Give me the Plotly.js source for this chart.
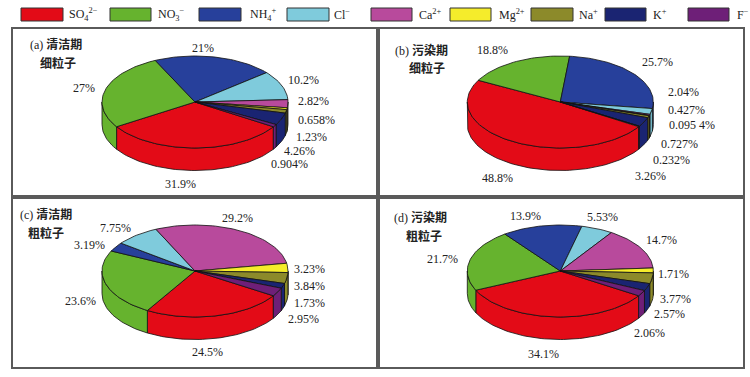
<!DOCTYPE html>
<html><head><meta charset="utf-8">
<script src="https://cdn.plot.ly/plotly-3.0.1.min.js"></script>
<style>html,body{margin:0;padding:0;background:#fff;overflow:hidden}#c{width:750px;height:377px}</style>
</head><body><div id="c"></div>
<script>
// ---- data ----
const ions = ['SO<sub>4</sub><sup>2−</sup>','NO<sub>3</sub><sup>−</sup>','NH<sub>4</sub><sup>+</sup>','Cl<sup>−</sup>','Ca<sup>2+</sup>','Mg<sup>2+</sup>','Na<sup>+</sup>','K<sup>+</sup>','F<sup>−</sup>'];
const ionNames = ['SO4','NO3','NH4','Cl','Ca','Mg','Na','K','F'];
const valuesA = [31.9,27,21,10.2,2.82,0.658,1.23,4.26,0.904];
const valuesB = [48.8,18.8,25.7,2.04,0.427,0.0954,0.727,3.26,0.232];
const valuesC = [24.5,23.6,3.19,7.75,29.2,3.23,3.84,1.73,2.95];
const valuesD = [34.1,21.7,13.9,5.53,14.7,1.71,3.77,2.57,2.06];
const labelsA = ['31.9%','27%','21%','10.2%','2.82%','0.658%','1.23%','4.26%','0.904%'];
const labelsB = ['48.8%','18.8%','25.7%','2.04%','0.427%','0.095 4%','0.727%','3.26%','0.232%'];
const labelsC = ['24.5%','23.6%','3.19%','7.75%','29.2%','3.23%','3.84%','1.73%','2.95%'];
const labelsD = ['34.1%','21.7%','13.9%','5.53%','14.7%','1.71%','3.77%','2.57%','2.06%'];

// ---- style and layout ----
const colors = ['#e30b17','#66b32e','#27409b','#7fcbdc','#b84a9c','#f5ec2b','#8c8a2a','#1a2472','#6e1f78'];
const W = 750, H = 377;
const START = 32.6, DEPTH = 22.5, RX = 93, RY = 46;
const edge = '#111';
const panels = [
 {ax:'',  xr:[13,378],  yr:[197,29],  cx:195,   cy:102, v:valuesA, l:labelsA, t1:'(a) <b>清洁期</b>', t1x:28,  t1y:45,  t2:'<b>细粒子</b>', t2x:58,  t2y:64,
  pos:[[180,184],[84,88],[203,48],[303,80],[313,101],[316,120],[311,137],[299,151],[289,164]]},
 {ax:'2', xr:[378,743], yr:[197,29],  cx:560.3, cy:102, v:valuesB, l:labelsB, t1:'(b) <b>污染期</b>', t1x:393, t1y:51,  t2:'<b>细粒子</b>', t2x:427, t2y:69,
  pos:[[497,178],[492,50],[657,62],[683,92],[686,110],[692,125],[679,144],[650,176],[671,160]]},
 {ax:'3', xr:[13,378],  yr:[367,197], cx:195,   cy:271, v:valuesC, l:labelsC, t1:'(c) <b>清洁期</b>', t1x:18,  t1y:214, t2:'<b>粗粒子</b>', t2x:46,  t2y:233,
  pos:[[207,352],[80,301],[89,245],[115,228],[237,218],[309,269],[309,286],[309,303],[303,319]]},
 {ax:'4', xr:[378,743], yr:[367,197], cx:560.3, cy:271, v:valuesD, l:labelsD, t1:'(d) <b>污染期</b>', t1x:392, t1y:217, t2:'<b>粗粒子</b>', t2x:424, t2y:236,
  pos:[[543,354],[442,259],[525,216],[602,217],[661,240],[673,274],[675,299],[669,314],[649,333]]}
];
const legendX = [[21,63],[110,151],[199,241],[287,329],[371,412],[450,491],[531,573],[605,646],[688,729]];
const legendTextX = [67,156,248,332,417,497,577,651,735];

const rad = d => d*Math.PI/180;
function arc(p,a0,a1,dz){
  const n = Math.max(2,Math.ceil(Math.abs(a1-a0)/2)), xs=[], ys=[];
  for(let i=0;i<=n;i++){const a=rad(a0+(a1-a0)*i/n); xs.push(p.cx+RX*Math.cos(a)); ys.push(p.cy+dz+RY*Math.sin(a));}
  return [xs,ys];
}
const traces=[], annotations=[], shapes=[];
const layout={width:W,height:H,margin:{l:0,r:0,t:0,b:0},paper_bgcolor:'#fff',plot_bgcolor:'#fff',showlegend:false,hovermode:false,annotations,shapes};
const font={family:'"Liberation Serif","Noto Sans CJK SC",serif',size:12,color:'#222'};

panels.forEach(p=>{
  const xa='x'+p.ax, ya='y'+p.ax;
  const axis={showgrid:false,zeroline:false,showticklabels:false,ticks:'',tickmode:'array',tickvals:[],showline:true,mirror:true,linecolor:'#5a5a5a',linewidth:2,fixedrange:true};
  layout['xaxis'+p.ax]=Object.assign({},axis,{range:p.xr,domain:[p.xr[0]/W,p.xr[1]/W],anchor:ya});
  layout['yaxis'+p.ax]=Object.assign({},axis,{range:p.yr,domain:[1-p.yr[0]/H,1-p.yr[1]/H],anchor:xa});
  const total=p.v.reduce((a,b)=>a+b,0);
  const spans=[]; let a=START;
  p.v.forEach(v=>{const b=a+v/total*360; spans.push([a,b]); a=b;});
  // side walls: visible only on the front half of the ellipse
  spans.forEach((s,i)=>{
    [[0,180],[360,540]].forEach(w=>{
      const a0=Math.max(s[0],w[0]), a1=Math.min(s[1],w[1]);
      if(a1<=a0) return;
      const t=arc(p,a0,a1,0), b=arc(p,a1,a0,DEPTH);
      traces.push({type:'scatter',mode:'lines',xaxis:xa,yaxis:ya,name:ionNames[i],fill:'toself',fillcolor:colors[i],
        x:t[0].concat(b[0],[t[0][0]]),y:t[1].concat(b[1],[t[1][0]]),line:{color:edge,width:0.8}});
    });
  });
  // top faces
  spans.forEach((s,i)=>{
    const t=arc(p,s[0],s[1],0);
    traces.push({type:'scatter',mode:'lines',xaxis:xa,yaxis:ya,name:ionNames[i],fill:'toself',fillcolor:colors[i],
      x:[p.cx].concat(t[0],[p.cx]),y:[p.cy].concat(t[1],[p.cy]),line:{color:edge,width:0.8}});
  });
  p.l.forEach((txt,i)=>annotations.push({xref:xa,yref:ya,x:p.pos[i][0],y:p.pos[i][1],text:txt,showarrow:false,xanchor:'center',yanchor:'middle',font}));
  annotations.push({xref:xa,yref:ya,x:p.t1x,y:p.t1y,text:p.t1,showarrow:false,xanchor:'left',yanchor:'middle',font});
  annotations.push({xref:xa,yref:ya,x:p.t2x,y:p.t2y,text:p.t2,showarrow:false,xanchor:'center',yanchor:'middle',font});
});
// legend
ions.forEach((n,i)=>{
  shapes.push({type:'rect',xref:'paper',yref:'paper',x0:legendX[i][0]/W,x1:legendX[i][1]/W,y0:1-21/H,y1:1-8/H,fillcolor:colors[i],line:{color:'#333',width:1}});
  annotations.push({xref:'paper',yref:'paper',x:legendTextX[i]/W,y:1-14/H,text:n,showarrow:false,xanchor:'left',yanchor:'middle',font:{family:font.family,size:12,color:'#222'}});
});
Plotly.newPlot('c',traces,layout,{displayModeBar:false,staticPlot:true});
</script></body></html>
